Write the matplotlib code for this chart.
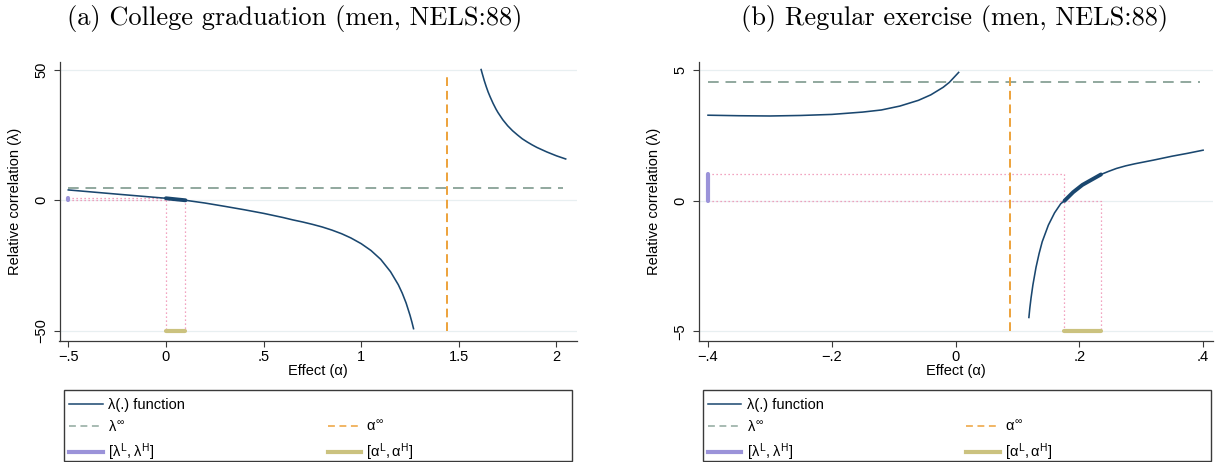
import matplotlib
matplotlib.use("Agg")
import numpy as np
import matplotlib.pyplot as plt
from matplotlib.lines import Line2D
from matplotlib.patches import Rectangle

plt.rcParams['font.family'] = ['Liberation Sans', 'DejaVu Sans']
plt.rcParams['mathtext.fontset'] = 'custom'
plt.rcParams['mathtext.rm'] = 'Liberation Sans'
plt.rcParams['mathtext.it'] = 'Liberation Sans'
plt.rcParams['mathtext.bf'] = 'Liberation Sans:bold'

# ---- panel (a): college graduation ----
a_alpha_neg = [-0.5, -0.25, 0.0, 0.05, 0.1, 0.2, 0.3, 0.4, 0.5, 0.55, 0.6, 0.65, 0.7, 0.75,
               0.8, 0.85, 0.9, 0.947, 1.0, 1.05, 1.1, 1.15, 1.19, 1.21, 1.23, 1.25, 1.26, 1.268]
a_lam_neg = [3.96, 2.35, 0.77, 0.38, 0.0, -1.05, -2.3, -3.6, -5.0, -5.8, -6.6, -7.5, -8.3, -9.2,
             -10.2, -11.4, -12.8, -14.4, -16.6, -19.2, -22.6, -27.3, -32.3, -35.5, -39.3, -44.0,
             -46.7, -49.1]
a_alpha_pos = [1.614, 1.62, 1.63, 1.64, 1.65, 1.66, 1.675, 1.69, 1.70, 1.725, 1.75, 1.775,
               1.80, 1.825, 1.85, 1.875, 1.90, 1.95, 2.00, 2.047]
a_lam_pos = [50.0, 48.4, 45.8, 43.5, 41.4, 39.6, 37.1, 34.9, 33.6, 30.8, 28.5, 26.6,
             25.0, 23.5, 22.3, 21.2, 20.2, 18.5, 17.0, 15.8]
a_lam_inf = 4.6
a_alpha_inf = 1.437
a_lam_band = [0.0, 0.77]
a_alpha_band = [0.0, 0.1]
a_hline_span = [-0.5, 2.035]
a_vline_span = [-50, 48.6]
a_xticks = [-0.5, 0, 0.5, 1, 1.5, 2]
a_xlabels = ['\u2212.5', '0', '.5', '1', '1.5', '2']
a_yticks = [-50, 0, 50]
a_ylabels = ['\u221250', '0', '50']

# ---- panel (b): regular exercise ----
b_alpha_neg = [-0.4, -0.35, -0.3, -0.25, -0.2, -0.15, -0.12, -0.09, -0.06, -0.04, -0.02,
               -0.01, 0.005]
b_lam_neg = [3.28, 3.26, 3.25, 3.27, 3.31, 3.40, 3.48, 3.63, 3.85, 4.06, 4.35, 4.54, 4.92]
b_alpha_pos = [0.1185, 0.12, 0.122, 0.125, 0.13, 0.135, 0.14, 0.15, 0.16, 0.17, 0.176,
               0.19, 0.205, 0.22, 0.235, 0.2475, 0.26, 0.275, 0.29, 0.32, 0.35, 0.375, 0.4]
b_lam_pos = [-4.47, -4.11, -3.72, -3.22, -2.55, -2.02, -1.57, -0.93, -0.46, -0.11, 0.0,
             0.33, 0.61, 0.81, 1.01, 1.13, 1.24, 1.34, 1.42, 1.56, 1.71, 1.82, 1.94]
b_lam_inf = 4.55
b_alpha_inf = 0.0884
b_lam_band = [0.0, 1.01]
b_alpha_band = [0.176, 0.235]
b_hline_span = [-0.4, 0.395]
b_vline_span = [-5, 4.85]
b_xticks = [-0.4, -0.2, 0, 0.2, 0.4]
b_xlabels = ['\u2212.4', '\u2212.2', '0', '.2', '.4']
b_yticks = [-5, 0, 5]
b_ylabels = ['\u22125', '0', '5']

NAVY = '#1a476f'
GREEN = '#90a89e'
ORANGE = '#eda23a'
PINK = '#ee86ac'
PURPLE = '#9b93d9'
KHAKI = '#cbc27f'
GRID = '#e8eff1'
AXC = '#3a3a3a'

W, H = 1218, 462
fig = plt.figure(figsize=(W / 100, H / 100), dpi=100)
fig.patch.set_facecolor('white')


def panel(rect, xlim, ylim, alpha_neg, lam_neg, alpha_pos, lam_pos, lam_inf, alpha_inf,
          lam_band, alpha_band, hspan, vspan, xticks, xlabels, yticks, ylabels):
    ax = fig.add_axes(rect)
    ax.set_xlim(xlim)
    ax.set_ylim(ylim)
    for s in ['top', 'right']:
        ax.spines[s].set_visible(False)
    for s in ['left', 'bottom']:
        ax.spines[s].set_color(AXC)
        ax.spines[s].set_linewidth(0.9)
    ax.set_xticks(xticks)
    ax.set_xticklabels(xlabels)
    ax.set_yticks(yticks)
    ax.set_yticklabels(ylabels, rotation=90, va='center')
    ax.tick_params(axis='both', direction='out', length=4, width=0.8, color=AXC,
                   labelsize=10.5, labelcolor='black')
    ax.tick_params(axis='x', pad=3)
    ax.tick_params(axis='y', pad=4)
    ax.yaxis.grid(True, color=GRID, lw=0.9)
    ax.set_axisbelow(True)

    x0 = xticks[0]
    ymin = yticks[0]
    # dotted guides
    ax.plot([x0, alpha_band[0], alpha_band[0]], [lam_band[1], lam_band[1], ymin],
            color=PINK, lw=0.9, ls=(0, (1, 2.2)), zorder=2)
    ax.plot([x0, alpha_band[1], alpha_band[1]], [lam_band[0], lam_band[0], ymin],
            color=PINK, lw=0.9, ls=(0, (1, 2.2)), zorder=2)
    # asymptotes
    ax.plot(hspan, [lam_inf, lam_inf], color=GREEN, lw=1.4, dashes=(5.5, 3.5), zorder=3)
    ax.plot([alpha_inf, alpha_inf], vspan, color=ORANGE, lw=1.4, dashes=(4.5, 2.5), zorder=3)
    # lambda function
    ax.plot(alpha_neg, lam_neg, color=NAVY, lw=1.15, zorder=4)
    ax.plot(alpha_pos, lam_pos, color=NAVY, lw=1.15, zorder=4)
    al = np.array(alpha_neg + alpha_pos)
    lm = np.array(lam_neg + lam_pos)
    m = (al >= alpha_band[0] - 1e-9) & (al <= alpha_band[1] + 1e-9)
    ax.plot(al[m], lm[m], color=NAVY, lw=2.8, zorder=4, solid_capstyle='round')
    # bands
    ax.plot([x0, x0], lam_band, color=PURPLE, lw=3, solid_capstyle='round', zorder=5)
    ax.plot(alpha_band, [ymin, ymin], color=KHAKI, lw=3, solid_capstyle='round', zorder=5)
    return ax


axa = panel([59.5 / W, 1 - 340.7 / H, 517.5 / W, 279 / H], (-0.545, 2.105), (-53.7, 53.0),
            a_alpha_neg, a_lam_neg, a_alpha_pos, a_lam_pos, a_lam_inf, a_alpha_inf,
            a_lam_band, a_alpha_band, a_hline_span, a_vline_span,
            a_xticks, a_xlabels, a_yticks, a_ylabels)
axb = panel([698.8 / W, 1 - 340.7 / H, 514.2 / W, 279 / H], (-0.4149, 0.416), (-5.36, 5.33),
            b_alpha_neg, b_lam_neg, b_alpha_pos, b_lam_pos, b_lam_inf, b_alpha_inf,
            b_lam_band, b_alpha_band, b_hline_span, b_vline_span,
            b_xticks, b_xlabels, b_yticks, b_ylabels)

# titles
fig.text(295 / W, 1 - 18 / H, '(a) College graduation (men, NELS:88)', family='cmr10',
         fontsize=19, ha='center', va='center')
fig.text(955 / W, 1 - 18 / H, '(b) Regular exercise (men, NELS:88)', family='cmr10',
         fontsize=19, ha='center', va='center')

# axis titles
for xc, yc in [(15, 318), (654, 956)]:
    fig.text(xc / W, 1 - 201.2 / H, 'Relative correlation (\u03bb)', rotation=90,
             ha='center', va='center', fontsize=10.5)
    fig.text(yc / W, 1 - 371.5 / H, 'Effect (\u03b1)', ha='center', va='center', fontsize=10.5)

# legends
handles = [
    Line2D([], [], color=NAVY, lw=1.1),
    Line2D([], [], color=GREEN, lw=1.1, dashes=(4.5, 3.0)),
    Line2D([], [], color=PURPLE, lw=3),
    Line2D([], [], alpha=0),
    Line2D([], [], color=ORANGE, lw=1.1, dashes=(4.5, 3.0)),
    Line2D([], [], color=KHAKI, lw=3),
]
labels = ['\u03bb(.) function', r'$\lambda^{\infty}$', r'$[\lambda^{L},\lambda^{H}]$',
          '', r'$\alpha^{\infty}$', r'$[\alpha^{L},\alpha^{H}]$']

for bx0, bx1 in [(64.3, 571.5), (702.9, 1211)]:
    fig.patches.append(Rectangle((bx0 / W, 1 - 460.7 / H), (bx1 - bx0) / W, 70.7 / H,
                                 transform=fig.transFigure, fill=False, ec=AXC, lw=1.0))
    fig.legend(handles, labels, loc='upper left', bbox_to_anchor=((bx0 + 5) / W, 1 - 398 / H),
               ncol=2, frameon=False, fontsize=10.5, borderpad=0, borderaxespad=0,
               handlelength=2.3, handletextpad=0.35, labelspacing=0.5, columnspacing=9.8)

fig.savefig('out.png', dpi=100)
